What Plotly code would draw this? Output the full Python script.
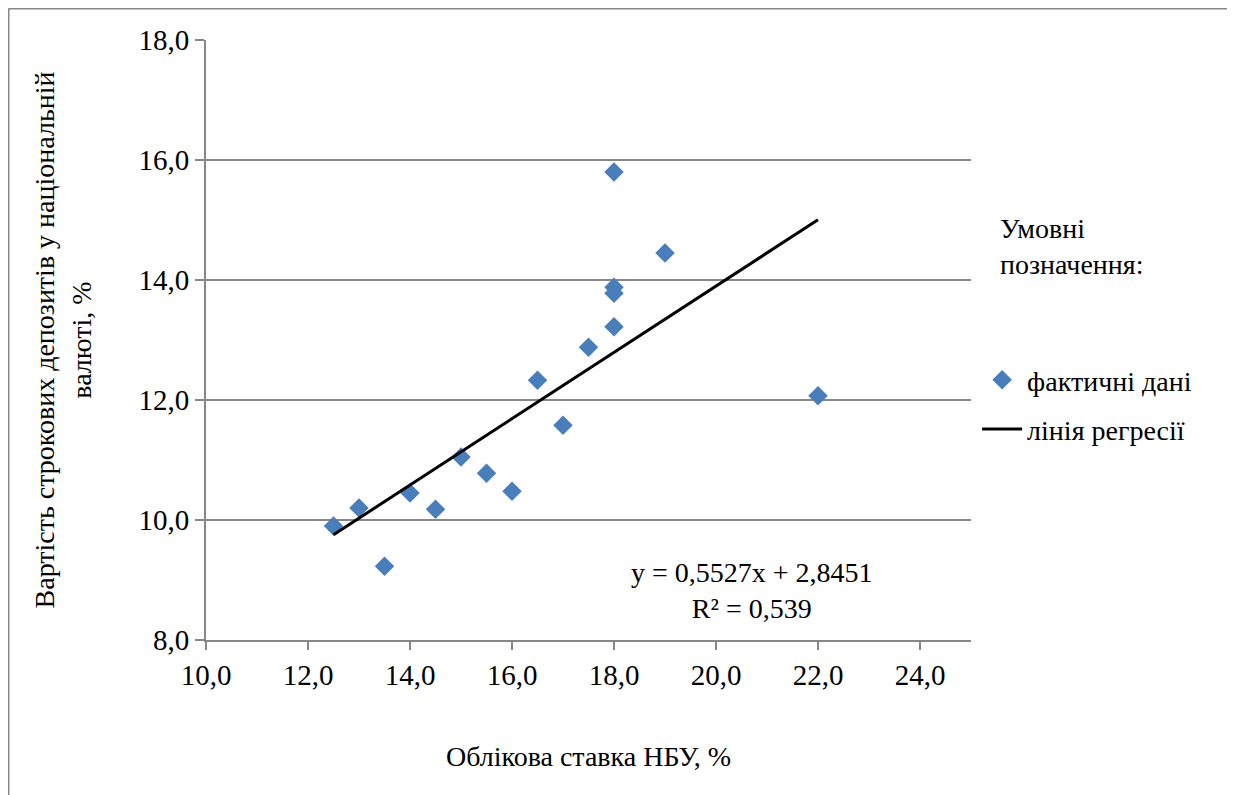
import plotly.graph_objects as go

# Data
nbu_rate = [12.5, 13.0, 13.5, 14.0, 14.5, 15.0, 15.5, 16.0, 16.5, 17.0, 17.5,
            18.0, 18.0, 18.0, 18.0, 19.0, 22.0]
deposit_cost = [9.90, 10.20, 9.23, 10.45, 10.18, 11.05, 10.78, 10.48, 12.33, 11.58, 12.88,
                15.80, 13.88, 13.78, 13.22, 14.45, 12.07]
slope = 0.5527
intercept = 2.8451
r_squared = 0.539

x_ticks = [10, 12, 14, 16, 18, 20, 22, 24]
y_ticks = [8, 10, 12, 14, 16, 18]

reg_x = [min(nbu_rate), max(nbu_rate)]
reg_y = [slope * v + intercept for v in reg_x]

FONT = "Liberation Serif"
GRID = "#878787"

fig = go.Figure()
fig.add_trace(go.Scatter(
    x=nbu_rate, y=deposit_cost, mode="markers", name="фактичні дані",
    legendgroup="a",
    marker=dict(symbol="diamond", size=15, color="#4A7EBB", line=dict(width=0)),
))
fig.add_trace(go.Scatter(
    x=reg_x, y=reg_y, mode="lines", name="лінія регресії",
    legendgroup="b",
    line=dict(color="black", width=3),
))

def fmt(v, d):
    return f"{v:.{d}f}".replace(".", ",")

fig.add_annotation(
    x=20.7, y=8.83, xref="x", yref="y", showarrow=False,
    text=f"y = {fmt(slope, 4)}x + {fmt(intercept, 4)}<br>R² = {fmt(r_squared, 3)}",
    font=dict(family=FONT, size=28, color="black"), align="center",
)
fig.add_annotation(
    x=1.035, y=0.655, xref="paper", yref="paper", showarrow=False,
    xanchor="left", yanchor="middle", align="left",
    text="Умовні<br>позначення:",
    font=dict(family=FONT, size=28, color="black"),
)

# outer chart frame (left and top edges visible in the reference)
FW, FH = 1235, 795
L, T, W, H = 198, 32, 765, 600
def px_x(p):
    return (p - L) / W
def px_y(p):
    return (T + H - p) / H
fig.add_shape(type="line", xref="paper", yref="paper",
              x0=px_x(0.5), x1=px_x(FW + 5), y0=px_y(0.75), y1=px_y(0.75),
              line=dict(color=GRID, width=1.5))
fig.add_shape(type="line", xref="paper", yref="paper",
              x0=px_x(0.75), x1=px_x(0.75), y0=px_y(0.5), y1=px_y(FH + 5),
              line=dict(color=GRID, width=1.5))

fig.update_layout(
    width=FW, height=FH,
    margin=dict(l=L, r=FW - L - W, t=T, b=FH - T - H, autoexpand=False),
    paper_bgcolor="white", plot_bgcolor="white",
    separators=", ",
    font=dict(family=FONT, size=28, color="black"),
    showlegend=True,
    legend=dict(x=1.008, y=0.475, xanchor="left", yanchor="top",
                font=dict(family=FONT, size=28, color="black"),
                tracegroupgap=10, itemwidth=40, bgcolor="rgba(0,0,0,0)"),
    xaxis=dict(
        range=[10, 25], tickvals=x_ticks, tickformat=".1f",
        showgrid=False, zeroline=False, automargin=False,
        showline=True, linecolor=GRID, linewidth=2,
        ticks="outside", ticklen=8, tickcolor=GRID, tickwidth=2,
        tickfont=dict(family=FONT, size=29, color="black"),
        title=dict(text="Облікова ставка НБУ, %", font=dict(family=FONT, size=28), standoff=57),
    ),
    yaxis=dict(
        range=[8, 18], tickvals=y_ticks, tickformat=".1f",
        showgrid=True, gridcolor=GRID, gridwidth=2, zeroline=False, automargin=False,
        showline=True, linecolor=GRID, linewidth=2,
        ticks="outside", ticklen=9, tickcolor=GRID, tickwidth=2,
        tickfont=dict(family=FONT, size=29, color="black"),
        title=dict(text="Вартість строкових депозитів у національній<br>валюті, %",
                   font=dict(family=FONT, size=28), standoff=39),
    ),
)

fig.write_html("out.html")
